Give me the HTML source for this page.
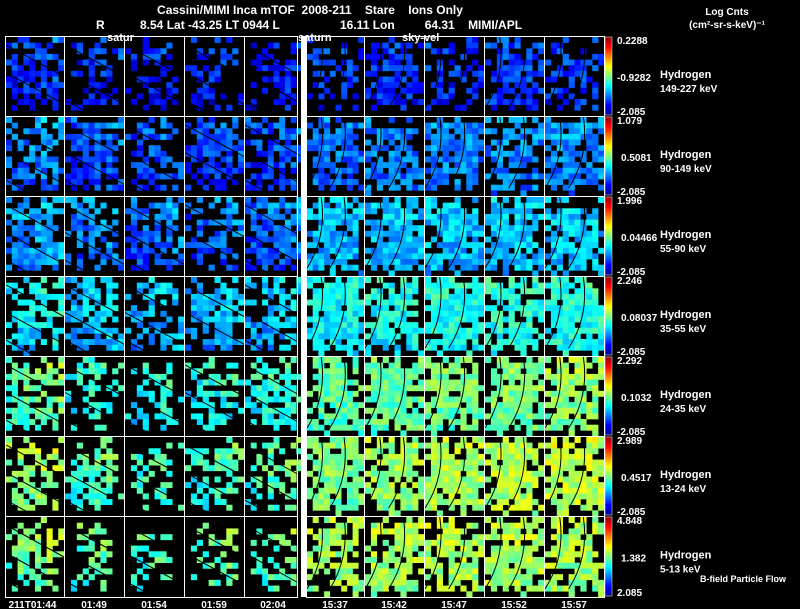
<!DOCTYPE html>
<html><head><meta charset="utf-8"><style>
html,body{margin:0;padding:0;background:#000;}
#wrap{position:relative;width:800px;height:609px;overflow:hidden;background:#000;font-family:"Liberation Sans",sans-serif;font-weight:bold;color:#fff;}
svg{position:absolute;left:0;top:0;}
text{white-space:pre;}
</style></head><body>
<div id="wrap">
<svg id="svg" width="800" height="609"></svg>
</div>
<script>
// ---- data ----
const timeLabels = ["211T01:44","01:49","01:54","01:59","02:04","15:37","15:42","15:47","15:52","15:57"];
const channelNames = ["149-227 keV","90-149 keV","55-90 keV","35-55 keV","24-35 keV","13-24 keV","5-13 keV"];
const cbarTop = ["0.2288","1.079","1.996","2.246","2.292","2.989","4.848"];
const cbarMid = ["-0.9282","0.5081","0.04466","0.08037","0.1032","0.4517","1.382"];
const cbarBot = ["-2.085","-2.085","-2.085","-2.085","-2.085","-2.085","2.085"];
// panel mean level (0=min blue, 1=max red) per row, per time column
const level0 = [0.17,0.14,0.14,0.15,0.14,0.16,0.16,0.16,0.17,0.17];
const level1 = [0.25,0.20,0.20,0.19,0.19,0.23,0.24,0.25,0.25,0.26];
const level2 = [0.28,0.25,0.23,0.22,0.22,0.30,0.31,0.31,0.32,0.32];
const level3 = [0.36,0.32,0.30,0.30,0.31,0.37,0.38,0.39,0.40,0.40];
const level4 = [0.47,0.40,0.39,0.38,0.41,0.45,0.47,0.48,0.49,0.51];
const level5 = [0.52,0.45,0.43,0.43,0.45,0.50,0.52,0.54,0.55,0.56];
const level6 = [0.50,0.46,0.44,0.46,0.46,0.52,0.53,0.54,0.54,0.53];
const levels = [level0,level1,level2,level3,level4,level5,level6];
// fraction of cells filled per panel
const cover0 = [0.58,0.55,0.50,0.50,0.52,0.62,0.62,0.62,0.62,0.62];
const cover1 = [0.72,0.70,0.66,0.66,0.68,0.80,0.82,0.82,0.82,0.82];
const cover2 = [0.76,0.70,0.68,0.68,0.72,0.88,0.90,0.90,0.90,0.90];
const cover3 = [0.78,0.70,0.64,0.66,0.70,0.88,0.90,0.90,0.90,0.90];
const cover4 = [0.72,0.54,0.48,0.50,0.60,0.86,0.88,0.88,0.88,0.88];
const cover5 = [0.74,0.56,0.48,0.52,0.60,0.88,0.88,0.88,0.88,0.88];
const cover6 = [0.55,0.40,0.30,0.36,0.40,0.82,0.82,0.82,0.82,0.82];
const covers = [cover0,cover1,cover2,cover3,cover4,cover5,cover6];
// cell texture pattern (digits, read as rough speckle)
const texture = "38172905647182039564728103974628519037462819503746281905738462910573846291057384629105738462019573846201957384602915738460291573846029157384610295738461029573846102957384610295738461";

// ---- layout ----
const colX = [5,64,124,184,244,306,364,424,484,544,604];
const rowY = [36,116,196,276,356,436,516,597];
const NC=10, NR=14;
const svg=document.getElementById('svg');
const NS='http://www.w3.org/2000/svg';
function jet(v){v=Math.max(0,Math.min(1,v));
 const r=Math.max(0,Math.min(1,1.5-Math.abs(4*v-3))),g=Math.max(0,Math.min(1,1.5-Math.abs(4*v-2))),b=Math.max(0,Math.min(1,1.5-Math.abs(4*v-1)));
 return `rgb(${Math.round(r*255)},${Math.round(g*255)},${Math.round(b*255)})`;}
function mk(tag,attrs){const e=document.createElementNS(NS,tag);for(const k in attrs)e.setAttribute(k,attrs[k]);svg.appendChild(e);return e;}
function txt(x,y,s,size,anchor){const e=mk('text',{x:x,y:y,fill:'#fff','font-size':size||11,'font-family':'Liberation Sans, sans-serif','font-weight':'bold','text-anchor':anchor||'start'});e.textContent=s;return e;}

const defs=document.createElementNS(NS,'defs');
defs.innerHTML='<linearGradient id="jetg" x1="0" y1="1" x2="0" y2="0"><stop offset="0" stop-color="#00008f"/><stop offset="0.125" stop-color="#0000ff"/><stop offset="0.375" stop-color="#00ffff"/><stop offset="0.625" stop-color="#ffff00"/><stop offset="0.875" stop-color="#ff0000"/><stop offset="1" stop-color="#8f0000"/></linearGradient>';
svg.appendChild(defs);
const L=texture.length;
for(let r=0;r<7;r++){
 for(let c=0;c<10;c++){
  const x0=colX[c]+1,x1=(c==4?302:colX[c+1]),y0=rowY[r]+1,y1=rowY[r+1];
  const cw=(x1-x0)/NC,ch=(y1-y0)/NR;
  const lv=levels[r][c],cov=covers[r][c];
  for(let i=0;i<NR;i++)for(let j=0;j<NC;j++){
   const idx=(i*23+j*37+i*j*11+c*53+r*71)%L;
   const d=+texture[idx], d2=+texture[(idx*7+i*3+j*5+3)%L];
   const ex=Math.abs(j-4.5)/5, ey=Math.abs(i-6.5)/7;
   const edge=Math.max(0,Math.max(ex,ey)-0.6)*1.2 + (i==NR-1?0.3:0);
   if((d+0.5)/10 > cov-edge) continue;
   const grad=(c<5?((j/NC)-(i/NR))*0.08:((i/NR)-0.5)*-0.04);
   const v=lv+grad+(d2-4.5)*0.016;
   const rc=mk('rect',{x:(x0+j*cw).toFixed(2),y:(y0+i*ch).toFixed(2),width:(cw+0.3).toFixed(2),height:(ch+0.3).toFixed(2),fill:jet(v)});
   
   
  }
  const g=mk('g',{stroke:'#000','stroke-width':1,fill:'none'});
  
  
  const w=x1-x0,h=y1-y0;
  if(c<5){
   [[0.1,-0.05],[0.45,0.15],[0.8,0.4]].forEach(p=>{const l=document.createElementNS(NS,'path');
    l.setAttribute('d',`M${x0} ${y0+h*p[0]} L${x1} ${y0+h*(p[0]+0.4)}`);g.appendChild(l);});
  } else {
   [0.35,0.75].forEach(p=>{const l=document.createElementNS(NS,'path');
    l.setAttribute('d',`M${x0+w*(p-0.35)} ${y0+h*0.9} Q${x0+w*p} ${y0+h*0.5} ${x0+w*(p-0.1)} ${y0}`);g.appendChild(l);});
  }
  const b=mk('rect',{x:colX[c]+0.5,y:rowY[r]+0.5,width:(c==4?297:colX[c+1])-colX[c],height:rowY[r+1]-rowY[r],fill:'none',stroke:'#fff','stroke-width':1});
  
  
 }
 const cb=mk('rect',{x:605,y:rowY[r]+1,width:7,height:rowY[r+1]-rowY[r]-2,fill:'url(#jetg)',stroke:'#fff','stroke-width':0.5});
 
 
 const t1=txt(617,rowY[r]+8,cbarTop[r],10);
 
 
 const t2=txt(r==0?617:621,(rowY[r]+rowY[r+1])/2+5,cbarMid[r],10);
 
 
 const t3=txt(617,rowY[r+1]-1,cbarBot[r],10);
 
 
 const h1=txt(660,(rowY[r]+rowY[r+1])/2+2,'Hydrogen',11);
 
 
 const h2=txt(660,(rowY[r]+rowY[r+1])/2+16,channelNames[r],10);
 
 
}
const sep=mk('rect',{x:301,y:36,width:5,height:561,fill:'#fff'});


for(let c=0;c<10;c++){
 const tl=txt((colX[c]+(c==4?302:colX[c+1]))/2+(c==0?-2:0),608,timeLabels[c],10,'middle');
 
 
}
const tt=txt(310,14,'Cassini/MIMI Inca mTOF  2008-211    Stare    Ions Only',12,'middle');


const st=txt(96,29,'R',12);


const st2=txt(140,29,'8.54 Lat -43.25 LT 0944 L',12);


const st3=txt(340,29,'16.11 Lon         64.31    MIMI/APL',12);


[['satur',107,'direction-satur'],['saturn',298,'direction-saturn'],['sky-vel',402,'direction-sky-vel']].forEach(a=>{
 const e=txt(a[1],41,a[0],11);
 
 
});
const lc=txt(727,15,'Log Cnts',10,'middle');


const lu=txt(727,28,'(cm²-sr-s-keV)⁻¹',10,'middle');


const bf=txt(700,582,'B-field Particle Flow',9);


</script>
</body></html>
